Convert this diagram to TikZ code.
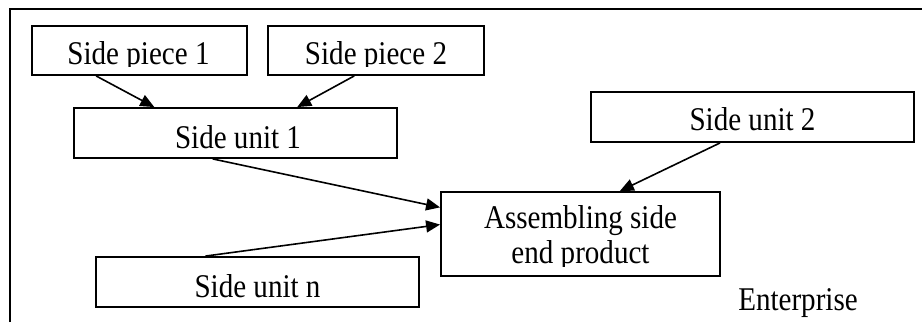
\documentclass[tikz,border=0pt]{standalone}
\usepackage{fontspec}
\setmainfont{Liberation Serif}
\usetikzlibrary{arrows.meta,calc,fit}
% taller-than-normal lettering used for all labels
\newcommand\tallText[1]{\scalebox{1}[1.14]{#1}}
\begin{document}
\begin{tikzpicture}[x=0.75pt,y=-0.75pt,
  box/.style={draw, line width=1.4pt, inner sep=0pt},
  lbl/.style={anchor=base, inner sep=0pt, font=\fontsize{21.8}{26.25}\selectfont},
  link/.style={line width=1.2pt, -{Triangle[length=10.5pt,width=9pt]}}]
\useasboundingbox (0,0) rectangle (922,322);

% enterprise frame (open to the right and bottom)
\draw[line width=1.4pt] (10,322) -- (10,9) -- (922,9);

% boxes
\node[box, fit={(32,26) (247,75)}] (sp1) {};
\node[box, fit={(268,26) (484,75)}] (sp2) {};
\node[box, fit={(74,108) (397,158)}] (su1) {};
\node[box, fit={(591,92) (914,142)}] (su2) {};
\node[box, fit={(441,192) (720,276)}] (asm) {};
\node[box, fit={(96,257) (419,307)}] (sun) {};

% labels (the top boxes and the assembly box cut their text off at the bottom)
\begin{scope}
  \clip (32,26) rectangle (484,66);
  \node[lbl] (sp1t) at (138.5,64) {\tallText{Side piece 1}};
  \node[lbl] (sp2t) at (376,64) {\tallText{Side piece 2}};
\end{scope}
\node[lbl] (su1t) at (238,148) {\tallText{Side unit 1}};
\node[lbl] (su2t) at (752.5,130) {\tallText{Side unit 2}};
\node[lbl] (sunt) at (257.5,297) {\tallText{Side unit n}};
\node[lbl] (asmt1) at (580.5,228) {\tallText{Assembling side}};
\begin{scope}
  \clip (441,192) rectangle (720,266);
  \node[lbl] (asmt2) at (580.5,263) {\tallText{end product}};
\end{scope}
\node[lbl] (ent) at (798,310) {\tallText{Enterprise}};

% connectors
\draw[link] ($(sp1.south west)!0.30!(sp1.south east)$) -- ($(su1.north west)!0.25!(su1.north east)$);
\draw[link] ($(sp2.south west)!0.40!(sp2.south east)$) -- ($(su1.north west)!0.69!(su1.north east)$);
\draw[link] ($(su1.south west)!0.43!(su1.south east)$) -- ($(asm.north west)!0.19!(asm.south west)$);
\draw[link] ($(sun.north west)!0.34!(sun.north east)$) -- ($(asm.north west)!0.39!(asm.south west)$);
\draw[link] ($(su2.south west)!0.40!(su2.south east)$) -- ($(asm.north west)!0.64!(asm.north east)$);
\end{tikzpicture}
\end{document}
